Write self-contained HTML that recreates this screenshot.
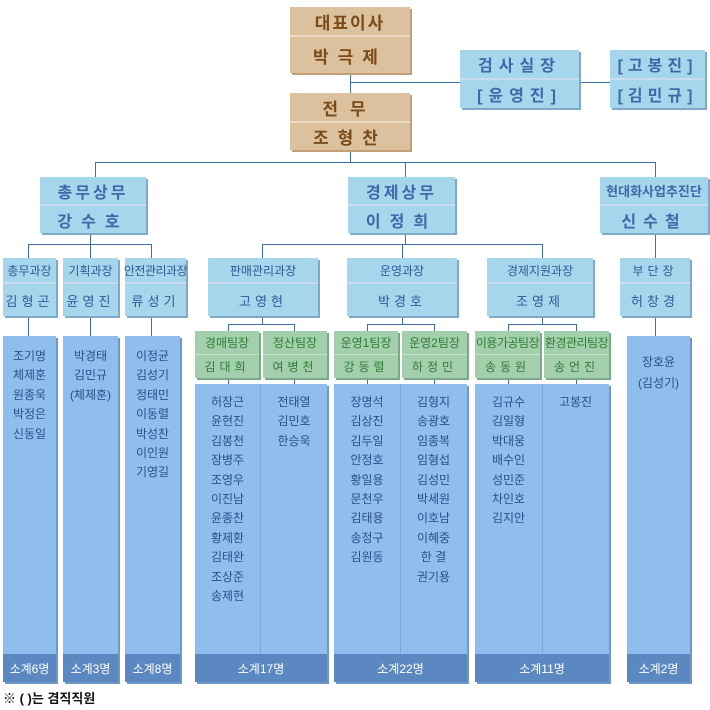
<!DOCTYPE html>
<html><head><meta charset="utf-8"><style>
body{margin:0;width:710px;height:710px;background:#fff;position:relative;overflow:hidden;font-family:"Liberation Sans","Noto Sans CJK KR","NanumGothic",sans-serif}
div{position:absolute;box-sizing:border-box}
.ln{background:#3f6fa8}
.b{border-radius:2px;box-shadow:1px 1px 0 #7fa9c8}
.r{display:flex;align-items:center;justify-content:center;white-space:nowrap}
.br{background:#dcc19f;color:#7a4a18;font-weight:bold;font-size:17px;letter-spacing:3px;box-shadow:2px 2px 0 #c29f78}
.bl{background:#a6d6ec;color:#3a6aa8;box-shadow:2px 2px 0 #7ea9c9}
.gr{background:#a3cfad;color:#2e7d32;box-shadow:2px 2px 0 #7aa888}
.col{background:#8fbdee;box-shadow:2px 2px 0 #6e98c8;color:#2c4f86;font-size:12px;text-align:center}
.ft{background:#5b88c0;color:#fff;font-size:12px;display:flex;align-items:center;justify-content:center}
.nm{position:absolute;left:0;right:0;line-height:19.4px}
.sep{background:#c7dcee;height:2px}
</style></head><body>
<!-- lines -->
<div class="ln" style="left:350px;top:73px;width:1px;height:20px"></div>
<div class="ln" style="left:350px;top:82px;width:110px;height:1px"></div>
<div class="ln" style="left:579px;top:82px;width:31px;height:1px"></div>
<div class="ln" style="left:350px;top:150px;width:1px;height:12px"></div>
<div class="ln" style="left:95px;top:162px;width:561px;height:1px"></div>
<div class="ln" style="left:95px;top:162px;width:1px;height:15px"></div>
<div class="ln" style="left:405px;top:162px;width:1px;height:15px"></div>
<div class="ln" style="left:655px;top:162px;width:1px;height:15px"></div>

<div class="ln" style="left:90px;top:233px;width:1px;height:12px"></div>
<div class="ln" style="left:28px;top:244px;width:124px;height:1px"></div>
<div class="ln" style="left:28px;top:244px;width:1px;height:14px"></div>
<div class="ln" style="left:90px;top:244px;width:1px;height:14px"></div>
<div class="ln" style="left:151px;top:244px;width:1px;height:14px"></div>
<div class="ln" style="left:405px;top:233px;width:1px;height:12px"></div>
<div class="ln" style="left:262px;top:244px;width:281px;height:1px"></div>
<div class="ln" style="left:262px;top:244px;width:1px;height:14px"></div>
<div class="ln" style="left:402px;top:244px;width:1px;height:14px"></div>
<div class="ln" style="left:542px;top:244px;width:1px;height:14px"></div>
<div class="ln" style="left:655px;top:233px;width:1px;height:25px"></div>

<div class="ln" style="left:28px;top:316px;width:1px;height:20px"></div>
<div class="ln" style="left:90px;top:316px;width:1px;height:20px"></div>
<div class="ln" style="left:151px;top:316px;width:1px;height:20px"></div>
<div class="ln" style="left:655px;top:316px;width:1px;height:20px"></div>
<div class="ln" style="left:262px;top:316px;width:1px;height:8px"></div>
<div class="ln" style="left:228px;top:324px;width:67px;height:1px"></div>
<div class="ln" style="left:228px;top:324px;width:1px;height:7px"></div>
<div class="ln" style="left:294px;top:324px;width:1px;height:7px"></div>
<div class="ln" style="left:402px;top:316px;width:1px;height:8px"></div>
<div class="ln" style="left:367px;top:324px;width:67px;height:1px"></div>
<div class="ln" style="left:367px;top:324px;width:1px;height:7px"></div>
<div class="ln" style="left:434px;top:324px;width:1px;height:7px"></div>
<div class="ln" style="left:542px;top:316px;width:1px;height:8px"></div>
<div class="ln" style="left:508px;top:324px;width:68px;height:1px"></div>
<div class="ln" style="left:508px;top:324px;width:1px;height:7px"></div>
<div class="ln" style="left:576px;top:324px;width:1px;height:7px"></div>
<div class="ln" style="left:228px;top:378px;width:1px;height:6px"></div>
<div class="ln" style="left:294px;top:378px;width:1px;height:6px"></div>
<div class="ln" style="left:367px;top:378px;width:1px;height:6px"></div>
<div class="ln" style="left:434px;top:378px;width:1px;height:6px"></div>
<div class="ln" style="left:508px;top:378px;width:1px;height:6px"></div>
<div class="ln" style="left:576px;top:378px;width:1px;height:6px"></div>

<!-- top brown -->
<div class="br" style="left:290px;top:7px;width:120px;height:66px"></div>
<div class="r" style="left:290px;top:7px;width:120px;height:28px;color:#7a4a18;font-weight:bold;font-size:17px;letter-spacing:2px">대표이사</div>
<div style="left:290px;top:35px;width:120px;height:2px;background:#ecd9c2"></div>
<div class="r" style="left:290px;top:37px;width:120px;height:36px;color:#7a4a18;font-weight:bold;font-size:17px;letter-spacing:9px">박극제</div>
<div class="br" style="left:290px;top:93px;width:120px;height:57px"></div>
<div class="r" style="left:290px;top:93px;width:120px;height:28px;color:#7a4a18;font-weight:bold;font-size:17px;letter-spacing:12px">전무</div>
<div style="left:290px;top:121px;width:120px;height:2px;background:#ecd9c2"></div>
<div class="r" style="left:290px;top:123px;width:120px;height:27px;color:#7a4a18;font-weight:bold;font-size:17px;letter-spacing:9px">조형찬</div>

<!-- generic two-row blue boxes -->
<div class="bl" style="left:460px;top:50px;width:119px;height:58px"></div>
<div class="r" style="left:460px;top:50px;width:119px;height:28px;color:#3a6aa8;font-weight:bold;font-size:16px;letter-spacing:6px">검사실장</div>
<div class="sep" style="left:460px;top:78px;width:119px"></div>
<div class="r" style="left:460px;top:80px;width:119px;height:28px;color:#3a6aa8;font-weight:bold;font-size:16px;letter-spacing:6px">[윤영진]</div>
<div class="bl" style="left:610px;top:50px;width:95px;height:58px"></div>
<div class="r" style="left:610px;top:50px;width:95px;height:28px;color:#3a6aa8;font-weight:bold;font-size:16px;letter-spacing:5px">[고봉진]</div>
<div class="sep" style="left:610px;top:78px;width:95px"></div>
<div class="r" style="left:610px;top:80px;width:95px;height:28px;color:#3a6aa8;font-weight:bold;font-size:16px;letter-spacing:5px">[김민규]</div>

<!-- level 2 -->
<div class="bl" style="left:40px;top:177px;width:106px;height:56px"></div>
<div class="r" style="left:40px;top:177px;width:106px;height:27px;color:#3a6aa8;font-weight:bold;font-size:16px;letter-spacing:3px">총무상무</div>
<div class="sep" style="left:40px;top:204px;width:106px"></div>
<div class="r" style="left:40px;top:206px;width:106px;height:27px;color:#3a6aa8;font-weight:bold;font-size:16px;letter-spacing:9px">강수호</div>
<div class="bl" style="left:348px;top:177px;width:107px;height:56px"></div>
<div class="r" style="left:348px;top:177px;width:107px;height:27px;color:#3a6aa8;font-weight:bold;font-size:16px;letter-spacing:3px">경제상무</div>
<div class="sep" style="left:348px;top:204px;width:107px"></div>
<div class="r" style="left:348px;top:206px;width:107px;height:27px;color:#3a6aa8;font-weight:bold;font-size:16px;letter-spacing:9px">이정희</div>
<div class="bl" style="left:600px;top:177px;width:108px;height:56px"></div>
<div class="r" style="left:600px;top:177px;width:108px;height:27px;color:#3a6aa8;font-weight:bold;font-size:13px">현대화사업추진단</div>
<div class="sep" style="left:600px;top:204px;width:108px"></div>
<div class="r" style="left:600px;top:206px;width:108px;height:27px;color:#3a6aa8;font-weight:bold;font-size:16px;letter-spacing:7px">신수철</div>

<!-- level 3 -->
<div class="bl" style="left:3px;top:258px;width:53px;height:58px"></div>
<div class="r" style="left:3px;top:258px;width:53px;height:24px;color:#2d5a98;font-size:12px">총무과장</div>
<div class="sep" style="left:3px;top:282px;width:53px"></div>
<div class="r" style="left:3px;top:284px;width:53px;height:32px;color:#2d5a98;font-size:13px;letter-spacing:4px">김형곤</div>
<div class="bl" style="left:63px;top:258px;width:55px;height:58px"></div>
<div class="r" style="left:63px;top:258px;width:55px;height:24px;color:#2d5a98;font-size:12px">기획과장</div>
<div class="sep" style="left:63px;top:282px;width:55px"></div>
<div class="r" style="left:63px;top:284px;width:55px;height:32px;color:#2d5a98;font-size:13px;letter-spacing:4px">윤영진</div>
<div class="bl" style="left:125px;top:258px;width:61px;height:58px"></div>
<div class="r" style="left:125px;top:258px;width:61px;height:24px;color:#2d5a98;font-size:12px;letter-spacing:-0.5px">안전관리과장</div>
<div class="sep" style="left:125px;top:282px;width:61px"></div>
<div class="r" style="left:125px;top:284px;width:61px;height:32px;color:#2d5a98;font-size:13px;letter-spacing:4px">류성기</div>

<div class="bl" style="left:208px;top:258px;width:110px;height:58px"></div>
<div class="r" style="left:208px;top:258px;width:110px;height:24px;color:#2d5a98;font-size:12px">판매관리과장</div>
<div class="sep" style="left:208px;top:282px;width:110px"></div>
<div class="r" style="left:208px;top:284px;width:110px;height:32px;color:#2d5a98;font-size:13px;letter-spacing:4px">고영현</div>
<div class="bl" style="left:347px;top:258px;width:110px;height:58px"></div>
<div class="r" style="left:347px;top:258px;width:110px;height:24px;color:#2d5a98;font-size:12px">운영과장</div>
<div class="sep" style="left:347px;top:282px;width:110px"></div>
<div class="r" style="left:347px;top:284px;width:110px;height:32px;color:#2d5a98;font-size:13px;letter-spacing:4px">박경호</div>
<div class="bl" style="left:487px;top:258px;width:106px;height:58px"></div>
<div class="r" style="left:487px;top:258px;width:106px;height:24px;color:#2d5a98;font-size:12px">경제지원과장</div>
<div class="sep" style="left:487px;top:282px;width:106px"></div>
<div class="r" style="left:487px;top:284px;width:106px;height:32px;color:#2d5a98;font-size:13px;letter-spacing:4px">조영제</div>
<div class="bl" style="left:620px;top:258px;width:70px;height:58px"></div>
<div class="r" style="left:620px;top:258px;width:70px;height:24px;color:#2d5a98;font-size:12px;letter-spacing:4px">부단장</div>
<div class="sep" style="left:620px;top:282px;width:70px"></div>
<div class="r" style="left:620px;top:284px;width:70px;height:32px;color:#2d5a98;font-size:13px;letter-spacing:4px">허창경</div>

<!-- green teams -->
<div class="gr" style="left:195px;top:331px;width:64px;height:47px"></div>
<div class="r" style="left:195px;top:331px;width:64px;height:22px;color:#2e7d32;font-size:12px">경매팀장</div>
<div class="r" style="left:195px;top:354px;width:64px;height:24px;color:#2e7d32;font-size:12px;letter-spacing:4px;border-top:1px solid #c6e2cb">김대희</div>
<div class="gr" style="left:263px;top:331px;width:64px;height:47px"></div>
<div class="r" style="left:263px;top:331px;width:64px;height:22px;color:#2e7d32;font-size:12px">정산팀장</div>
<div class="r" style="left:263px;top:354px;width:64px;height:24px;color:#2e7d32;font-size:12px;letter-spacing:4px;border-top:1px solid #c6e2cb">여병천</div>
<div class="gr" style="left:334px;top:331px;width:64px;height:47px"></div>
<div class="r" style="left:334px;top:331px;width:64px;height:22px;color:#2e7d32;font-size:12px">운영1팀장</div>
<div class="r" style="left:334px;top:354px;width:64px;height:24px;color:#2e7d32;font-size:12px;letter-spacing:4px;border-top:1px solid #c6e2cb">강동렬</div>
<div class="gr" style="left:402px;top:331px;width:65px;height:47px"></div>
<div class="r" style="left:402px;top:331px;width:65px;height:22px;color:#2e7d32;font-size:12px">운영2팀장</div>
<div class="r" style="left:402px;top:354px;width:65px;height:24px;color:#2e7d32;font-size:12px;letter-spacing:4px;border-top:1px solid #c6e2cb">하정민</div>
<div class="gr" style="left:475px;top:331px;width:65px;height:47px"></div>
<div class="r" style="left:475px;top:331px;width:65px;height:22px;color:#2e7d32;font-size:12px;letter-spacing:-0.5px">이용가공팀장</div>
<div class="r" style="left:475px;top:354px;width:65px;height:24px;color:#2e7d32;font-size:12px;letter-spacing:4px;border-top:1px solid #c6e2cb">송동원</div>
<div class="gr" style="left:544px;top:331px;width:65px;height:47px"></div>
<div class="r" style="left:544px;top:331px;width:65px;height:22px;color:#2e7d32;font-size:12px;letter-spacing:-0.5px">환경관리팀장</div>
<div class="r" style="left:544px;top:354px;width:65px;height:24px;color:#2e7d32;font-size:12px;letter-spacing:4px;border-top:1px solid #c6e2cb">송언진</div>

<!-- columns -->
<div class="col" style="left:3px;top:336px;width:53px;height:346px">
<div class="nm" style="top:11px">조기명<br>체제훈<br>원종욱<br>박정은<br>신동일</div>
<div class="ft" style="position:absolute;left:0;right:0;bottom:0;height:28px">소계6명</div></div>
<div class="col" style="left:63px;top:336px;width:55px;height:346px">
<div class="nm" style="top:11px">박경태<br>김민규<br>(체제훈)</div>
<div class="ft" style="position:absolute;left:0;right:0;bottom:0;height:28px">소계3명</div></div>
<div class="col" style="left:125px;top:336px;width:55px;height:346px">
<div class="nm" style="top:11px">이정균<br>김성기<br>정태민<br>이동렬<br>박성찬<br>이인원<br>기영길</div>
<div class="ft" style="position:absolute;left:0;right:0;bottom:0;height:28px">소계8명</div></div>

<div class="col" style="left:195px;top:384px;width:132px;height:298px">
<div style="left:65px;top:0;width:1px;bottom:28px;background:#7ea8d8"></div>
<div class="nm" style="top:9px;right:67px">허장근<br>윤현진<br>김봉천<br>장병주<br>조영우<br>이진남<br>윤종찬<br>황제환<br>김태완<br>조상준<br>송제현</div>
<div class="nm" style="top:9px;left:66px">전태열<br>김민호<br>한승욱</div>
<div class="ft" style="position:absolute;left:0;right:0;bottom:0;height:28px">소계17명</div></div>
<div class="col" style="left:334px;top:384px;width:133px;height:298px">
<div style="left:66px;top:0;width:1px;bottom:28px;background:#7ea8d8"></div>
<div class="nm" style="top:9px;right:67px">장명석<br>김상진<br>김두일<br>안정호<br>황일용<br>문천우<br>김태용<br>송정구<br>김원동</div>
<div class="nm" style="top:9px;left:66px">김형지<br>송광호<br>임종복<br>임형섭<br>김성민<br>박세원<br>이호남<br>이혜중<br>한 결<br>권기용</div>
<div class="ft" style="position:absolute;left:0;right:0;bottom:0;height:28px">소계22명</div></div>
<div class="col" style="left:475px;top:384px;width:134px;height:298px">
<div style="left:67px;top:0;width:1px;bottom:28px;background:#7ea8d8"></div>
<div class="nm" style="top:9px;right:67px">김규수<br>김일형<br>박대웅<br>배수인<br>성민준<br>차인호<br>김지안</div>
<div class="nm" style="top:9px;left:67px">고봉진</div>
<div class="ft" style="position:absolute;left:0;right:0;bottom:0;height:28px">소계11명</div></div>
<div class="col" style="left:627px;top:336px;width:63px;height:346px">
<div class="nm" style="top:16px;line-height:21px">장호윤<br>(김성기)</div>
<div class="ft" style="position:absolute;left:0;right:0;bottom:0;height:28px">소계2명</div></div>

<div style="left:3px;top:688px;font-size:13px;font-weight:bold;color:#111;white-space:nowrap">※ ( )는 겸직직원</div>
</body></html>
